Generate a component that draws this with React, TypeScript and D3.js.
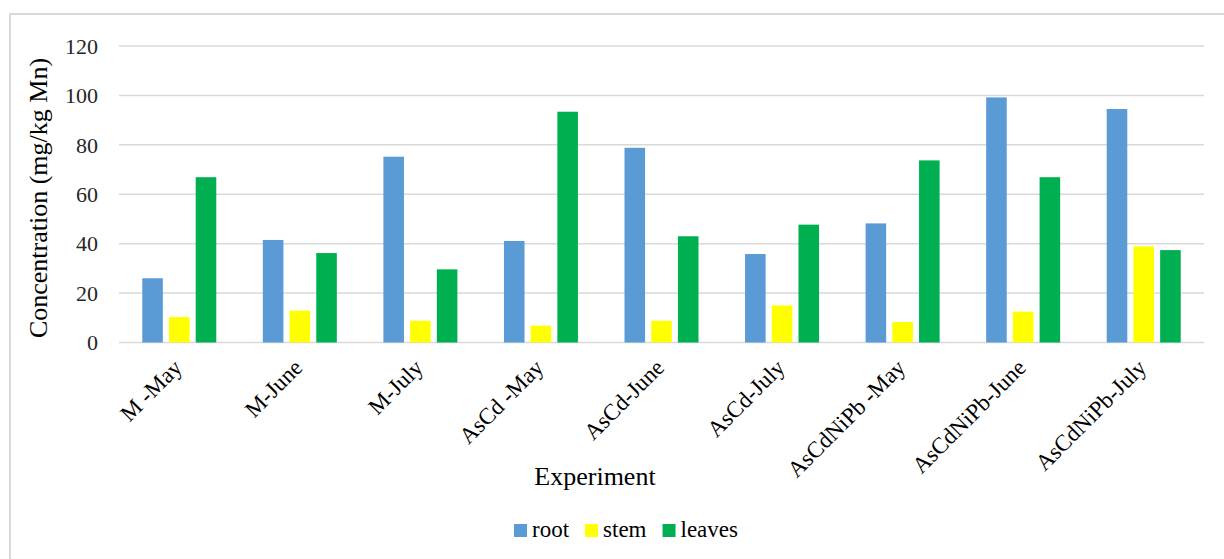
import React, { useEffect, useRef } from "react";
import * as d3 from "d3";

const categories = [
  "M -May",
  "M-June",
  "M-July",
  "AsCd -May",
  "AsCd-June",
  "AsCd-July",
  "AsCdNiPb -May",
  "AsCdNiPb-June",
  "AsCdNiPb-July",
];
const seriesNames = ["root", "stem", "leaves"];
const rootValues = [26.0, 41.5, 75.2, 41.1, 78.8, 35.8, 48.2, 99.2, 94.5];
const stemValues = [10.3, 12.9, 8.8, 6.8, 8.8, 15.0, 8.3, 12.5, 38.9];
const leavesValues = [66.9, 36.2, 29.6, 93.4, 43.0, 47.7, 73.7, 66.9, 37.4];
const yTicks = [0, 20, 40, 60, 80, 100, 120];
const colors = ["#5B9BD5", "#FFFF00", "#00B050"];

const W = 1224;
const H = 559;
const FONT = "Liberation Serif, serif";

export default function App() {
  const ref = useRef<SVGSVGElement | null>(null);

  useEffect(() => {
    const svg = d3.select(ref.current);
    svg.selectAll("*").remove();

    const plotL = 119, plotR = 1204, plotT = 46, plotB = 342.5;
    const x = d3.scaleBand<string>().domain(categories).range([plotL, plotR]).paddingInner(0).paddingOuter(0);
    const groupW = 74;
    const xs = d3.scaleBand<string>().domain(seriesNames).range([-groupW / 2, groupW / 2]).paddingInner(0.23).paddingOuter(0);
    const y = d3.scaleLinear().domain([0, 120]).range([plotB, plotT]);

    // outer border
    svg.append("path")
      .attr("d", `M10,${H + 5} L10,14 L${W + 5},14`)
      .attr("fill", "none")
      .attr("stroke", "#d9d9d9")
      .attr("stroke-width", 2);

    // gridlines
    svg.append("g").selectAll("line").data(yTicks).join("line")
      .attr("x1", plotL).attr("x2", plotR)
      .attr("y1", (d) => y(d)).attr("y2", (d) => y(d))
      .attr("stroke", "#d9d9d9").attr("stroke-width", 1.5);

    // y tick labels
    svg.append("g").selectAll("text").data(yTicks).join("text")
      .attr("x", 98).attr("y", (d) => y(d))
      .attr("dy", "0.35em")
      .attr("text-anchor", "end")
      .attr("font-family", FONT).attr("font-size", 22).attr("fill", "#262626")
      .text((d) => String(d));

    // bars
    const series = [rootValues, stemValues, leavesValues];
    series.forEach((vals, si) => {
      svg.append("g").selectAll("rect").data(vals).join("rect")
        .attr("x", (d, i) => (x(categories[i]) as number) + x.bandwidth() / 2 + (xs(seriesNames[si]) as number))
        .attr("width", xs.bandwidth())
        .attr("y", (d) => y(d))
        .attr("height", (d) => y(0) - y(d))
        .attr("fill", colors[si]);
    });

    // x labels
    svg.append("g").selectAll("text").data(categories).join("text")
      .attr("transform", (d) => `translate(${(x(d) as number) + x.bandwidth() / 2 + 4},369) rotate(-45)`)
      .attr("text-anchor", "end")
      .attr("font-family", FONT).attr("font-size", 23).attr("fill", "#000")
      .text((d) => d);

    // axis titles
    svg.append("text")
      .attr("transform", `translate(47,198) rotate(-90)`)
      .attr("text-anchor", "middle")
      .attr("font-family", FONT).attr("font-size", 26).attr("fill", "#000")
      .text("Concentration (mg/kg Mn)");

    svg.append("text")
      .attr("x", 595).attr("y", 485)
      .attr("text-anchor", "middle")
      .attr("font-family", FONT).attr("font-size", 26).attr("fill", "#000")
      .text("Experiment");

    // legend
    const lg = svg.append("g");
    const items = lg.selectAll("g").data(seriesNames).join("g");
    items.append("rect").attr("x", 0).attr("y", -13).attr("width", 13).attr("height", 13)
      .attr("fill", (d, i) => colors[i]);
    items.append("text").attr("x", 18).attr("y", 0)
      .attr("font-family", FONT).attr("font-size", 23).attr("fill", "#000")
      .text((d) => d);
    let cx = 0;
    items.each(function () {
      const g = d3.select(this);
      g.attr("transform", `translate(${cx},0)`);
      const tw = (g.select("text").node() as SVGTextElement).getComputedTextLength();
      cx += 18 + tw + 16;
    });
    const total = cx - 16;
    lg.attr("transform", `translate(${626 - total / 2},537)`);
  }, []);

  return (
    <svg
      ref={ref}
      width={W}
      height={H}
      style={{ position: "absolute", left: 0, top: 0, background: "#fff" }}
    />
  );
}
